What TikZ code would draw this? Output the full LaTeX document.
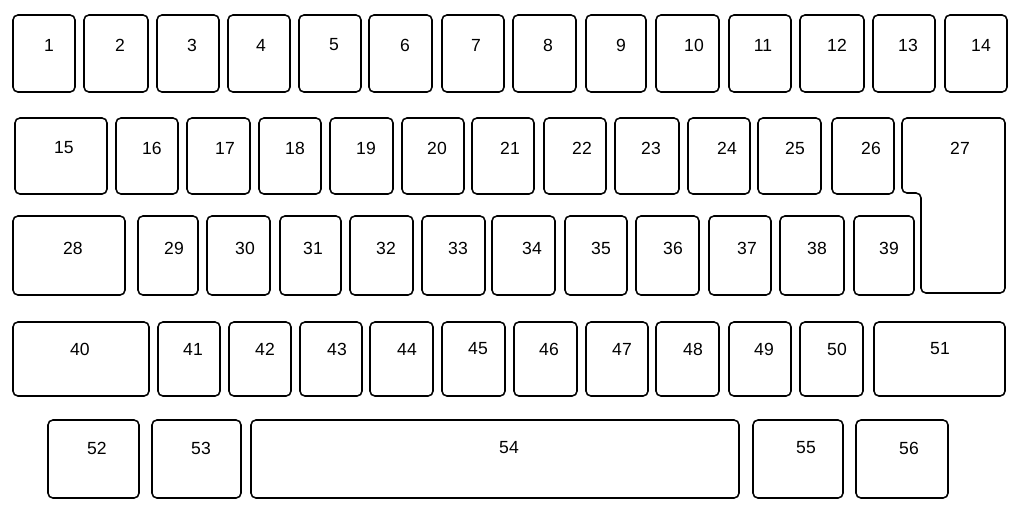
\documentclass[tikz,border=0pt]{standalone}
\usepackage{fontspec}
\setmainfont{Liberation Sans}
\usepackage{tikz}

\begin{document}
\begin{tikzpicture}[x=0.025cm, y=-0.025cm,
        keycap/.style={draw=black, line width=1.1pt, rounded corners=3.5pt},
        keylabel/.style={inner sep=0pt, font=\fontsize{12.5}{14}\selectfont}]

        %frame
        \useasboundingbox (0,0) rectangle (1024,515);

        %row 1
        \foreach \n/\l/\r/\lx in {1/13/75/49, 2/84/148/120, 3/157/219/192, 4/228/290/261,
                5/299/361/334, 6/369/432/405, 7/442/504/476, 8/513/576/548, 9/586/646/621,
                10/656/719/694, 11/729/791/763, 12/800/864/837, 13/873/935/908, 14/945/1007/981}{
        	\draw[keycap] (\l,15) rectangle (\r,92);
        	\node[keylabel] (k\n) at (\lx,45) {\n};
        }

        %row 2
        \foreach \n/\l/\r/\lx in {15/15/107/64, 16/116/178/152, 17/187/250/225, 18/259/321/295,
                19/330/393/366, 20/402/464/437, 21/472/534/510, 22/544/606/582, 23/615/679/651,
                24/688/750/727, 25/758/821/795, 26/832/894/871}{
        	\draw[keycap] (\l,118) rectangle (\r,194);
        	\node[keylabel] (k\n) at (\lx,148) {\n};
        }

        %enter key
        \draw[keycap] (902,118) -- (1005,118) -- (1005,293) -- (921,293) -- (921,193)
                -- (902,193) -- cycle;
        \node[keylabel] (k27) at (960,148) {27};

        %row 3
        \foreach \n/\l/\r/\lx in {28/13/125/73, 29/138/198/174, 30/207/270/245, 31/280/341/313,
                32/350/413/386, 33/422/485/458, 34/492/555/532, 35/565/627/601, 36/636/699/673,
                37/709/771/747, 38/780/844/817, 39/854/914/889}{
        	\draw[keycap] (\l,216) rectangle (\r,295);
        	\node[keylabel] (k\n) at (\lx,248) {\n};
        }

        %row 4
        \foreach \n/\l/\r/\lx in {40/13/149/80, 41/158/220/193, 42/229/291/265, 43/300/362/337,
                44/370/433/407, 45/442/505/478, 46/514/577/549, 47/586/648/622, 48/656/719/693,
                49/729/791/764, 50/800/863/837, 51/874/1005/940}{
        	\draw[keycap] (\l,322) rectangle (\r,396);
        	\node[keylabel] (k\n) at (\lx,349) {\n};
        }

        %row 5
        \foreach \n/\l/\r/\lx in {52/48/139/97, 53/152/241/201, 54/251/739/509,
                55/753/843/806, 56/856/948/909}{
        	\draw[keycap] (\l,420) rectangle (\r,498);
        	\node[keylabel] (k\n) at (\lx,448) {\n};
        }

\end{tikzpicture}
\end{document}
